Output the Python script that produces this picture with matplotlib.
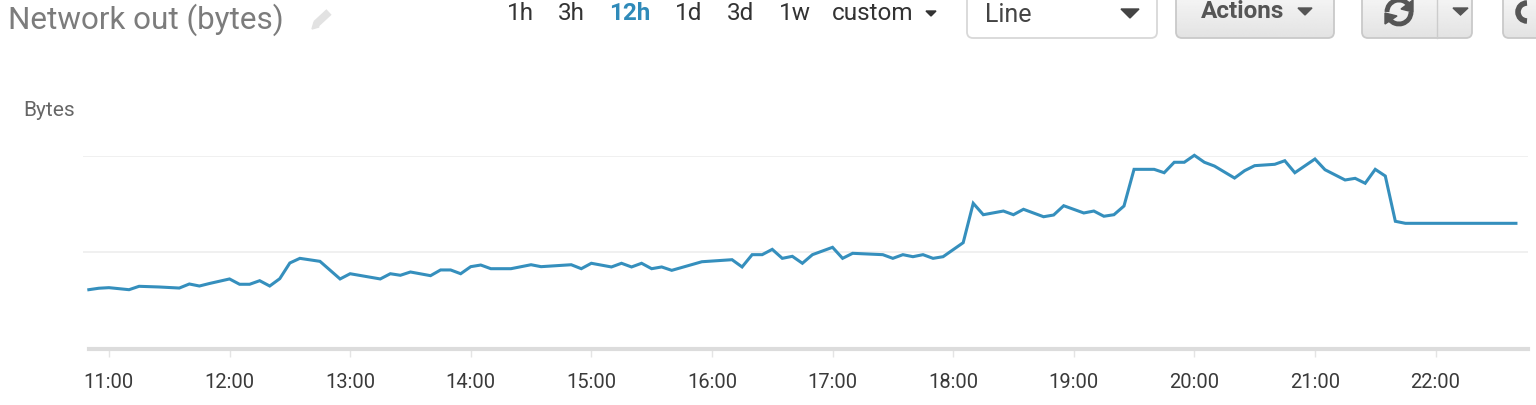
import matplotlib
matplotlib.use('Agg')
import matplotlib.pyplot as plt
from matplotlib.patches import FancyBboxPatch, Polygon, Arc
import numpy as np

plt.rcParams['font.family'] = ['Roboto', 'DejaVu Sans']

# minutes after 11:00
minutes = [-10, -5, 0, 10, 15, 25, 35, 40, 45, 50, 60, 65, 70, 75, 80, 85, 90, 95, 105, 115,
           120, 135, 140, 145, 150, 160, 165, 170, 175, 180, 185, 190, 200, 210, 215, 230, 235,
           240, 250, 255, 260, 265, 270, 275, 280, 295, 310, 315, 320, 325, 330, 335, 340, 345,
           350, 360, 365, 370, 385, 390, 395, 400, 405, 410, 415, 425, 430, 435, 445, 450, 455,
           465, 470, 475, 485, 490, 495, 500, 505, 510, 520, 525, 530, 535, 540, 545, 550, 560,
           565, 570, 580, 585, 590, 600, 605, 615, 620, 625, 630, 635, 640, 645, 700]
# no scale printed on the chart, so values are in gridline units
network_out = [.613, .628, .634, .613, .648, .641, .630, .672, .651, .677, .724, .669, .669, .706,
               .651, .727, .889, .937, .906, .724, .778, .724, .778, .762, .796, .758, .817, .817,
               .778, .851, .868, .830, .830, .871, .851, .871, .830, .886, .848, .886, .848, .886,
               .830, .848, .813, .902, .923, .848, .975, .975, 1.030, .937, .958, .886, .975, 1.051,
               .937, .989, .975, .937, .975, .954, .975, .937, .954, 1.099, 1.506, 1.388, 1.426,
               1.388, 1.444, 1.367, 1.385, 1.481, 1.406, 1.426, 1.372, 1.388, 1.478, 1.857, 1.857,
               1.822, 1.930, 1.930, 2.002, 1.930, 1.891, 1.767, 1.843, 1.895, 1.909, 1.946, 1.822,
               1.964, 1.853, 1.747, 1.764, 1.713, 1.857, 1.788, 1.320, 1.299, 1.299]
tick_minutes = [0, 60, 120, 180, 240, 300, 360, 420, 480, 540, 600, 660]
tick_labels = ['11:00', '12:00', '13:00', '14:00', '15:00', '16:00',
               '17:00', '18:00', '19:00', '20:00', '21:00', '22:00']
ranges = ['1h', '3h', '12h', '1d', '3d', '1w', 'custom']
range_x = [520, 571, 630, 689, 741, 795, 873]

W, H = 1536, 405
fig = plt.figure(figsize=(W / 100, H / 100), dpi=100)

# chart
ax = fig.add_axes([83 / W, (H - 349) / H, (1528 - 83) / W, (349 - 155.5) / H])
ax.plot(minutes, network_out, color='#358fbd', lw=2.2, solid_joinstyle='miter', clip_on=False, zorder=3)
ax.set_xlim(-12.9, 706)
ax.set_ylim(0, 2)
ax.set_yticks([1, 2])
ax.set_yticklabels([])
ax.grid(axis='y', color='#eeeeee', lw=1.2)
ax.tick_params(axis='y', length=0)
ax.set_xticks(tick_minutes)
ax.set_xticklabels(tick_labels, fontsize=14.5, color='#3a3a3a')
ax.tick_params(axis='x', length=6, width=1, color='#e4e4e4', pad=11)
for s in ['top', 'right', 'left', 'bottom']:
    ax.spines[s].set_visible(False)
ax.plot([-10, 706], [0, 0], color='#dcdcdc', lw=3, clip_on=False, zorder=2)

# page furniture, in pixel coordinates
ui = fig.add_axes([0, 0, 1, 1])
ui.set_xlim(0, W)
ui.set_ylim(H, 0)
ui.axis('off')
ui.patch.set_alpha(0)

ui.text(8, 20, 'Network out (bytes)', fontsize=22.6, color='#7c7c7c', va='center', ha='left')
ui.text(23, 110, 'Bytes', fontsize=15, color='#666666', va='center', ha='left')

# pencil
ui.plot([316, 329], [24, 12], color='#e2e2e2', lw=5.5, solid_capstyle='butt')
ui.add_patch(Polygon([[312, 29], [319, 27], [314, 22]], color='#e2e2e2'))

for label, x in zip(ranges, range_x):
    if label == '12h':
        ui.text(x, 13, label, fontsize=17.5, color='#2f8ab9', fontweight='bold', ha='center', va='center')
    else:
        ui.text(x, 13, label, fontsize=17.5, color='#333333', ha='center', va='center')
ui.add_patch(Polygon([[926, 11], [936, 11], [931, 16]], color='#333333'))

# Line select
ui.add_patch(FancyBboxPatch((967, -10), 190, 48, boxstyle='round,pad=0,rounding_size=6',
                            fc='white', ec='#d8d8d8', lw=1.3))
ui.text(985, 15, 'Line', fontsize=18, color='#444444', va='center', ha='left')
ui.add_patch(Polygon([[1121, 9], [1139, 9], [1130, 18]], color='#444444'))


def button(x0, x1):
    b = FancyBboxPatch((x0, -10), x1 - x0, 48, boxstyle='round,pad=0,rounding_size=6',
                       fc='#eeeeee', ec='#c9c9c9', lw=1.3)
    ui.add_patch(b)
    im = ui.imshow(np.linspace(0.97, 0.89, 40)[:, None], cmap='gray', vmin=0, vmax=1, aspect='auto',
                   extent=(x0, x1, 38, -10), zorder=1)
    im.set_clip_path(b)
    b.set_facecolor('none')
    b.set_zorder(2)


button(1176, 1334)
ui.text(1201, 12, 'Actions', fontsize=17.5, fontweight='bold', color='#555555', va='center', ha='left', zorder=3)
ui.add_patch(Polygon([[1298, 8], [1312, 8], [1305, 15]], color='#555555', zorder=3))

button(1362, 1472)
ui.plot([1437, 1437], [0, 38], color='#cccccc', lw=1, zorder=3)
ui.add_patch(Arc((1399, 12), 24, 24, theta1=180, theta2=325, color='#555555', lw=3.5, zorder=3))
ui.add_patch(Arc((1399, 12), 24, 24, theta1=0, theta2=145, color='#555555', lw=3.5, zorder=3))
ui.add_patch(Polygon([[1413, 0], [1413, 12], [1401, 9]], color='#555555', zorder=3))
ui.add_patch(Polygon([[1385, 24], [1385, 13], [1397, 16]], color='#555555', zorder=3))
ui.add_patch(Polygon([[1453, 8], [1468, 8], [1460.5, 15]], color='#555555', zorder=3))

button(1503, 1560)
ui.add_patch(Arc((1527, 12), 18, 18, theta1=90, theta2=270, color='#555555', lw=4, zorder=3))

ui.set_xlim(0, W)
ui.set_ylim(H, 0)

fig.savefig('out.png', dpi=100)
